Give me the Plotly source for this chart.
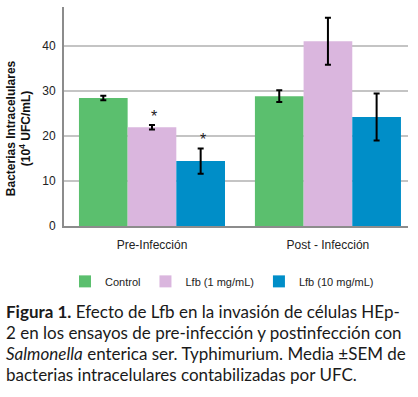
import plotly.graph_objects as go

# ---- data ----
groups = ["Pre-Infección", "Post - Infección"]
series = ["Control", "Lfb (1 mg/mL)", "Lfb (10 mg/mL)"]
values = {
    "Control": [28.4, 28.8],
    "Lfb (1 mg/mL)": [21.9, 41.0],
    "Lfb (10 mg/mL)": [14.4, 24.2],
}
errors = {
    "Control": [0.5, 1.3],
    "Lfb (1 mg/mL)": [0.5, 5.2],
    "Lfb (10 mg/mL)": [2.8, 5.2],
}
significant = {  # asterisks (series, group index)
    "Lfb (1 mg/mL)": [True, False],
    "Lfb (10 mg/mL)": [True, False],
}
colors = ["#5bbf6e", "#dab6de", "#008ec8"]
y_ticks = [0, 10, 20, 30, 40]

caption_lines = [
    "<b>Figura 1.</b> Efecto de Lfb en la invasión de células HEp-",
    "2 en los ensayos de pre-infección y postinfección con",
    "<i>Salmonella</i> enterica ser. Typhimurium. Media ±SEM de",
    "bacterias intracelulares contabilizadas por UFC.",
]

# ---- layout geometry ----
W, H = 418, 397
L, R, T = 64, 10, 7
plot_bottom = 225.7
B = H - plot_bottom
plot_w = W - L - R
plot_h = plot_bottom - T
bargap = 0.17
x_range = [-0.5, 1.455]
y_range = [0, plot_h / 4.5]


def px_x(p):  # pixel -> paper x
    return (p - L) / plot_w


def px_y(p):  # pixel -> paper y
    return (plot_bottom - p) / plot_h


fig = go.Figure()
x_idx = list(range(len(groups)))
for s, c in zip(series, colors):
    fig.add_trace(go.Bar(
        x=x_idx, y=values[s], name=s, marker=dict(color=c, line=dict(width=0)),
        error_y=dict(type="data", array=errors[s], color="black", thickness=2, width=3),
    ))

bar_w = (1 - bargap) / len(series)
annotations = []
for si, s in enumerate(series):
    for gi, flag in enumerate(significant.get(s, [])):
        if flag:
            annotations.append(dict(
                x=gi + (si - 1) * bar_w, y=values[s][gi] + errors[s][gi],
                xref="x", yref="y", text="*", showarrow=False,
                font=dict(family="Liberation Sans", size=16, color="#222"),
                yanchor="bottom", yshift=-2, xshift=2,
            ))

annotations.append(dict(
    x=px_x(19), y=px_y(128), xref="paper", yref="paper",
    text="<b>Bacterias Intracelulares<br>(10<sup>4</sup> UFC/mL)</b>", textangle=-90,
    showarrow=False, font=dict(family="Liberation Sans", size=12, color="#111"),
    xanchor="center", yanchor="middle",
))

line_y = [311, 332, 353, 374]
for txt, yy in zip(caption_lines, line_y):
    annotations.append(dict(
        x=px_x(4), y=px_y(yy), xref="paper", yref="paper", text=txt,
        showarrow=False, xanchor="left", yanchor="middle", align="left",
        font=dict(family="Lato", size=17, color="#1a1a1a"),
    ))

fig.update_layout(
    width=W, height=H, margin=dict(l=L, r=R, t=T, b=B, pad=0, autoexpand=False),
    paper_bgcolor="white", plot_bgcolor="white",
    barmode="group", bargap=bargap, bargroupgap=0,
    font=dict(family="Liberation Sans", size=12, color="#222"),
    showlegend=True,
    legend=dict(orientation="h", x=px_x(222), y=px_y(281), xanchor="center", yanchor="middle",
                font=dict(size=11), itemwidth=30, traceorder="normal"),
    xaxis=dict(range=x_range, tickvals=x_idx, ticktext=groups, showgrid=False,
               showline=True, linecolor="#8c8c8c", linewidth=2, ticks="", zeroline=False,
               ticklabelstandoff=7, fixedrange=True),
    yaxis=dict(range=y_range, tickvals=y_ticks, showgrid=True, gridcolor="#c4c4c4", gridwidth=2,
               showline=True, linecolor="#8c8c8c", linewidth=2, ticks="", zeroline=False,
               ticklabelstandoff=4),
    annotations=annotations,
)

fig.write_html("out.html", config={"displayModeBar": False},
               post_script="document.body.style.margin='0';")
